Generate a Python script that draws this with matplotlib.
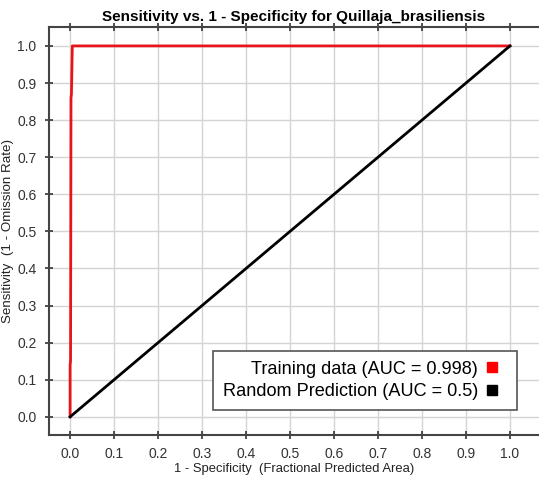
import matplotlib
matplotlib.use("Agg")
import matplotlib.pyplot as plt
from matplotlib.lines import Line2D

plt.rcParams['font.family'] = ['Liberation Sans', 'DejaVu Sans']

# Data
train_fpr = [0.0, 0.0, 0.001, 0.002, 0.003, 0.005, 1.0]
train_tpr = [0.0, 0.14, 0.15, 0.86, 0.87, 1.0, 1.0]
rand_fpr = [0.0, 1.0]
rand_tpr = [0.0, 1.0]
ticks = [0.0, 0.1, 0.2, 0.3, 0.4, 0.5, 0.6, 0.7, 0.8, 0.9, 1.0]
tick_labels = ["0.0", "0.1", "0.2", "0.3", "0.4", "0.5", "0.6", "0.7", "0.8", "0.9", "1.0"]
legend_labels = ["Training data (AUC = 0.998)", "Random Prediction (AUC = 0.5)"]
title = "Sensitivity vs. 1 - Specificity for Quillaja_brasiliensis"
xlabel = "1 - Specificity  (Fractional Predicted Area)"
ylabel = "Sensitivity  (1 - Omission Rate)"

fig = plt.figure(figsize=(5.39, 4.78), dpi=100)
ax = fig.add_axes([49 / 539, 43 / 478, (539 - 49) / 539, (435 - 27) / 478])

ax.set_xlim(-0.048, 1.066)
ax.set_ylim(-0.049, 1.051)

ax.plot(train_fpr, train_tpr, color='#e8141c', lw=2.0, zorder=3)
ax.plot(rand_fpr, rand_tpr, color='black', lw=2.0, zorder=3)

ax.set_xticks(ticks)
ax.set_xticklabels(tick_labels)
ax.set_yticks(ticks)
ax.set_yticklabels(tick_labels)
ax.grid(True, color='#d4d4d4', lw=1.0)
ax.set_axisbelow(True)

ax.tick_params(axis='both', labelsize=10, colors='#333333', direction='inout', length=6, width=1.2, pad=6)
ax.tick_params(axis='x', top=True, labeltop=False)
for s in ['left', 'bottom', 'top']:
    ax.spines[s].set_color('#444444')
    ax.spines[s].set_linewidth(1.5)
ax.spines['right'].set_visible(False)

ax.set_title(title, fontsize=11, fontweight='bold', pad=4)
ax.set_xlabel(xlabel, fontsize=9.4, labelpad=1, color='#222222')
ax.set_ylabel(ylabel, fontsize=9.6, labelpad=2, color='#222222')

handles = [Line2D([], [], marker='s', color='none', markerfacecolor='#ff0000', markeredgecolor='#ff0000', markersize=6.5),
           Line2D([], [], marker='s', color='none', markerfacecolor='black', markeredgecolor='black', markersize=6.5)]
leg = ax.legend(handles, legend_labels, loc='lower right', bbox_to_anchor=(0.955, 0.061),
                borderaxespad=0, markerfirst=False, fontsize=13.1, frameon=True, fancybox=False,
                edgecolor='#555555', framealpha=1, handlelength=1.6, handletextpad=0.0,
                borderpad=0.55, labelspacing=0.3, alignment='right')
leg.get_frame().set_linewidth(1.2)
for t in leg.get_texts():
    t.set_ha('right')

fig.savefig('out.png', dpi=100)
